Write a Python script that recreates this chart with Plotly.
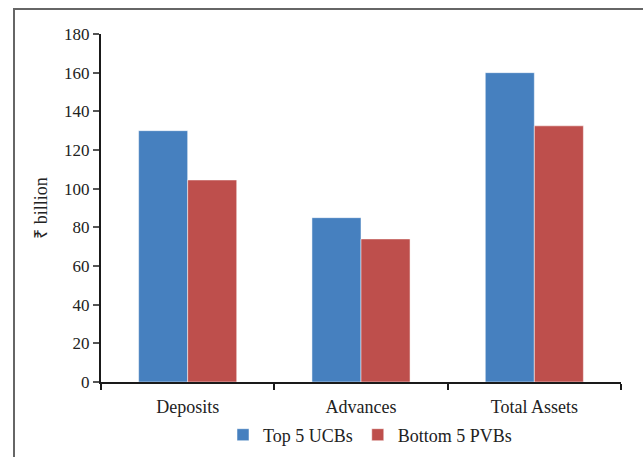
import plotly.graph_objects as go

categories = ["Deposits", "Advances", "Total Assets"]
top5_ucbs = [130, 85, 160]
bottom5_pvbs = [104.5, 74, 132.5]
y_ticks = [0, 20, 40, 60, 80, 100, 120, 140, 160, 180]

FONT = "Liberation Serif"
FS_TICK = 17
FS_TXT = 18

fig = go.Figure()
fig.add_trace(go.Bar(x=categories, y=top5_ucbs, name="Top 5 UCBs",
                     marker=dict(color="#4680BF", line=dict(color="rgba(255,255,255,0.5)", width=1))))
fig.add_trace(go.Bar(x=categories, y=bottom5_pvbs, name="Bottom 5 PVBs",
                     marker=dict(color="#BE4F4C", line=dict(color="rgba(255,255,255,0.5)", width=1))))

W, H = 643, 457
l, r, t, b = 101, 22, 34, 75
pw, ph = W - l - r, H - t - b

def px(x):
    return (x - l) / pw

def py(y):
    return (H - b - y) / ph

fig.update_layout(
    width=W, height=H,
    margin=dict(l=l, r=r, t=t, b=b, autoexpand=False),
    paper_bgcolor="white", plot_bgcolor="white",
    barmode="group", bargap=0.434, bargroupgap=0,
    font=dict(family=FONT, size=FS_TXT, color="#222"),
    showlegend=True,
    legend=dict(orientation="h", x=px(370), xanchor="center", y=py(435), yanchor="middle",
                font=dict(family=FONT, size=FS_TXT, color="#222"),
                itemwidth=30, tracegroupgap=0, traceorder="normal"),
    xaxis=dict(showline=True, linecolor="#1a1a1a", linewidth=2, ticks="outside",
               tickson="boundaries", ticklen=6, tickcolor="#1a1a1a", tickwidth=1.5,
               showgrid=False, automargin=False, ticklabelstandoff=7,
               tickfont=dict(family=FONT, size=FS_TXT, color="#222")),
    yaxis=dict(range=[0, 180], tickvals=y_ticks, showline=True, linecolor="#1a1a1a",
               linewidth=2, ticks="outside", ticklen=6, tickcolor="#555", tickwidth=1.5,
               showgrid=False, zeroline=False, automargin=False,
               tickfont=dict(family=FONT, size=FS_TICK, color="#222"),
               title=dict(text="₹ billion", font=dict(family=FONT, size=FS_TXT, color="#222"),
                          standoff=12)),
    shapes=[dict(type="rect", xref="paper", yref="paper",
                 x0=px(14), x1=px(700), y0=py(9), y1=py(520),
                 line=dict(color="#666", width=2), fillcolor="rgba(0,0,0,0)", layer="below")],
)

fig.write_html("out.html", config={"displayModeBar": False},
               post_script="document.body.style.margin='0';document.body.style.overflow='hidden';")
